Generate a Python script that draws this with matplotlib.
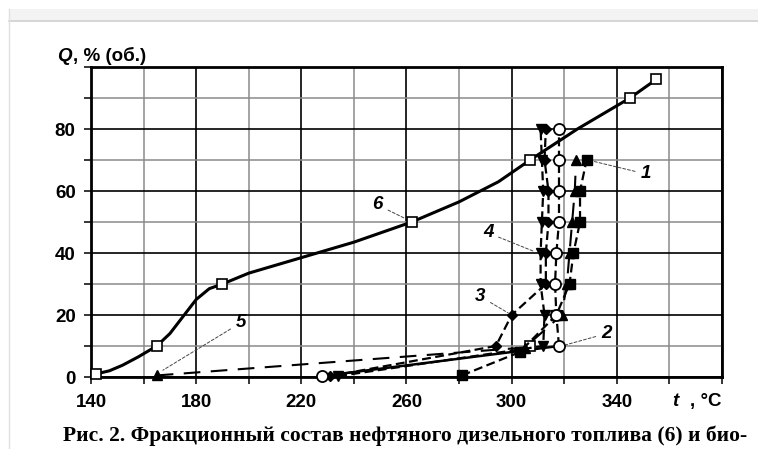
import numpy as np
from matplotlib import pyplot as plt
from matplotlib.patches import Rectangle
from matplotlib.lines import Line2D

# curve 6 - diesel fuel (open squares, solid line)
t6 = [142, 165, 190, 262, 307, 345, 355]
q6 = [1, 10, 30, 50, 70, 90, 96]
# points read along the drawn line of curve 6
t6_line = [142, 147, 152, 158, 165, 170, 176, 180, 185, 190, 200, 220, 240, 262, 280, 295, 307, 325, 345, 355]
q6_line = [1, 2, 3.8, 6.5, 10, 14, 20.6, 25, 28.5, 30, 33.5, 38.5, 43.5, 50, 56.5, 63, 70, 80, 90, 96]

# curves 1-5 (biofuels)
t1 = [281, 303, 317, 322, 323.5, 326, 326, 328.5]
q1 = [0.5, 8, 20, 30, 40, 50, 60, 70]
t2 = [228, 318, 317, 316.5, 317, 318, 318, 318, 318]
q2 = [0.3, 10, 20, 30, 40, 50, 60, 70, 80]
t3 = [231, 294, 300, 313, 313, 314, 314, 312.5, 313]
q3 = [0.3, 10, 20, 30, 40, 50, 60, 70, 80]
t4 = [234, 312, 312.5, 311, 311, 311.5, 312, 311.5, 311]
q4 = [0.3, 10, 20, 30, 40, 50, 60, 70, 80]
t5 = [165, 305, 319, 321, 322, 323, 324, 324.5]
q5 = [0.5, 9.5, 20, 30, 40, 50, 60, 70]
extra_t = [307]
extra_q = [10]

x_major = [140, 180, 220, 260, 300, 340, 380]
x_labels = ['140', '180', '220', '260', '300', '340', '']
x_minor = [160, 200, 240, 280, 320, 360]
y_major = [0, 20, 40, 60, 80, 100]
y_labels = ['0', '20', '40', '60', '80', '']
y_minor = [10, 30, 50, 70, 90]

W, H = 758, 449
fig = plt.figure(figsize=(W / 100, H / 100), dpi=100)

# page frame at the top / left
fig.patches.append(Rectangle((9 / W, 1 - 21 / H), 1, 12 / H, transform=fig.transFigure,
                             facecolor='#f3f3f3', edgecolor='none'))
fig.add_artist(Line2D([9 / W, 1], [1 - 21 / H, 1 - 21 / H], color='#cfcfcf', lw=1.2))
fig.add_artist(Line2D([9 / W, 9 / W], [0, 1 - 9 / H], color='#e0e0e0', lw=1))

ax = fig.add_axes([91 / W, 1 - 377 / H, (722 - 91) / W, (377 - 67) / H])
ax.set_xlim(140, 380)
ax.set_ylim(0, 100)

ax.set_xticks(x_major)
ax.set_xticklabels(x_labels)
ax.set_xticks(x_minor, minor=True)
ax.set_yticks(y_major)
ax.set_yticklabels(y_labels)
ax.set_yticks(y_minor, minor=True)
ax.grid(True, which='major', color='black', lw=1.2)
ax.grid(True, which='minor', color='#8a8a8a', lw=1.1)
ax.set_axisbelow(True)
ax.tick_params(which='both', direction='out', length=5, width=1.1, color='black')
ax.tick_params(axis='x', which='both', pad=7)
ax.tick_params(axis='y', which='both', pad=6)
for lab in ax.get_xticklabels() + ax.get_yticklabels():
    lab.set_fontfamily('Liberation Sans')
    lab.set_fontweight('bold')
    lab.set_fontsize(13.5)
for sp in ax.spines.values():
    sp.set_linewidth(2)

ms = 7
# curve 6
ax.plot(t6_line, q6_line, color='black', lw=2.2, zorder=3)
ax.plot(t6, q6, ls='none', marker='s', ms=ms, mfc='white', mec='black', mew=1.2, zorder=4, clip_on=False)
ax.plot(extra_t, extra_q, ls='none', marker='s', ms=ms, mfc='white', mec='black', mew=1.2, zorder=4)

dash = (0, (4, 2))
# curve 5
ax.plot(t5, q5, color='black', lw=1.5, ls=(0, (8, 5)), marker='^', ms=7, zorder=4, clip_on=False)
# curve 4
ax.plot(t4, q4, color='black', lw=1.6, ls=dash, marker='v', ms=7.5, zorder=4, clip_on=False)
# curve 3
ax.plot(t3, q3, color='black', lw=1.6, ls=dash, marker='D', ms=5, zorder=4, clip_on=False)
# curve 2: solid at the start, dashed in the steep part
ax.plot(t2[:2], q2[:2], color='black', lw=1.8, zorder=3)
ax.plot(t2[1:], q2[1:], color='black', lw=1.6, ls=dash, zorder=3)
ax.plot(t2, q2, ls='none', marker='o', ms=8, mfc='white', mec='black', mew=1.3, zorder=5, clip_on=False)
# curve 1
ax.plot(t1, q1, color='black', lw=1.6, ls=dash, marker='s', ms=7, zorder=4, clip_on=False)

# curve numbers with leader lines
lbl = dict(fontsize=13.5, fontweight='bold', fontstyle='italic', family='Liberation Sans',
           ha='center', va='center')
arrow = dict(arrowstyle='-', color='#444444', lw=0.7, ls=(0, (3, 2)), shrinkA=2, shrinkB=3)
ax.annotate('1', xy=(329, 70), xytext=(351, 65.5), arrowprops=arrow, **lbl)
ax.annotate('2', xy=(319, 10), xytext=(336, 14), arrowprops=arrow, **lbl)
ax.annotate('3', xy=(300, 20), xytext=(288, 26), arrowprops=arrow, **lbl)
ax.annotate('4', xy=(310, 40), xytext=(291, 46.5), arrowprops=arrow, **lbl)
ax.annotate('5', xy=(166, 1.5), xytext=(197, 17.5), arrowprops=arrow, **lbl)
ax.annotate('6', xy=(261, 50.5), xytext=(249, 55.5), arrowprops=arrow, **lbl)

# axis titles
fig.text(57 / W, 1 - 61 / H, 'Q', fontsize=13.5, fontweight='bold', fontstyle='italic',
         family='Liberation Sans', va='baseline')
fig.text(73 / W, 1 - 61 / H, ', % (об.)', fontsize=13.5, fontweight='bold',
         family='Liberation Sans', va='baseline')
fig.text(672 / W, 1 - 406 / H, 't', fontsize=13.5, fontweight='bold', fontstyle='italic',
         family='Liberation Sans', va='baseline')
fig.text(722 / W, 1 - 406 / H, ', °C', fontsize=13.5, fontweight='bold',
         family='Liberation Sans', va='baseline', ha='right')

fig.text(405 / W, 1 - 436 / H, 'Рис. 2. Фракционный состав нефтяного дизельного топлива (6) и био-',
         fontsize=15.5, fontweight='bold', family='Liberation Serif', ha='center', va='center')

fig.savefig('out.png', dpi=100)
